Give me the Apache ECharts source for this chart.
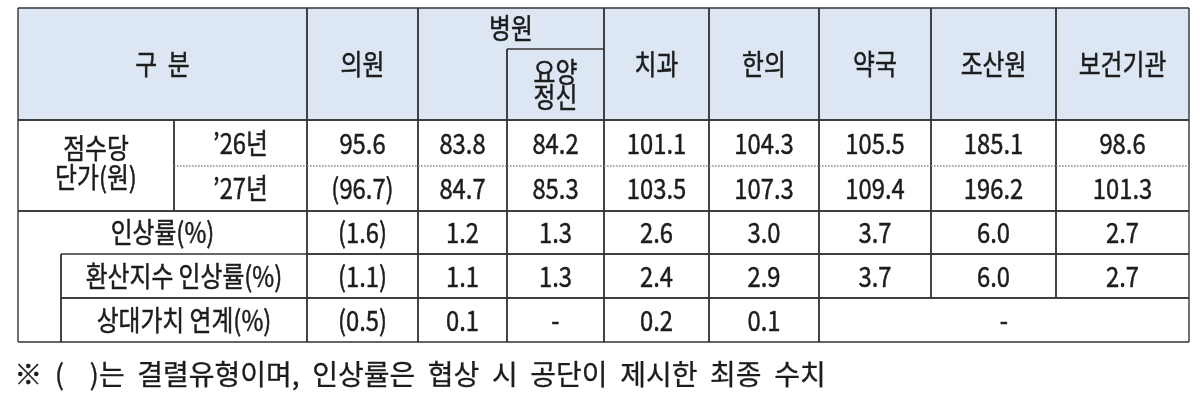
<!DOCTYPE html>
<html><head><meta charset="utf-8">
<script src="https://cdn.jsdelivr.net/npm/echarts@6/dist/echarts.min.js"></script>
<style>html,body{margin:0;padding:0;background:#fff}#c{width:1200px;height:401px}</style>
</head><body><div id="c"></div>
<script>
// ---------- data ----------
const categories = ['의원', '병원', '요양\n정신', '치과', '한의', '약국', '조산원', '보건기관'];
const cornerLabel = '구 분';
const priceLabel = '점수당\n단가(원)';
const yearLabels = ['’26년', '’27년'];
const rateLabels = ['인상률(%)', '환산지수 인상률(%)', '상대가치 연계(%)'];
const price26 = [95.6, 83.8, 84.2, 101.1, 104.3, 105.5, 185.1, 98.6];
const price27 = [96.7, 84.7, 85.3, 103.5, 107.3, 109.4, 196.2, 101.3];
const rateTotal = [1.6, 1.2, 1.3, 2.6, 3.0, 3.7, 6.0, 2.7];
const rateConv = [1.1, 1.1, 1.3, 2.4, 2.9, 3.7, 6.0, 2.7];
const rateRel = [0.5, 0.1, null, 0.2, 0.1, null, null, null];
const brokenCategory = 0; // index of category shown in parentheses (결렬)
const footnote = '※ (   )는 결렬유형이며, 인상률은 협상 시 공단이 제시한 최종 수치';

// ---------- layout (axis units) ----------
const COL = [18, 61, 174, 307, 418, 507, 604, 709, 819, 931, 1056, 1189];
const ROW = [8, 49, 120, 166, 211, 254, 298, 342];
const HEAD_FILL = '#dde7f3';
const LINE = '#333';
const TEXT = '#1c1c1c';
// wider word spacing as in the source document
const SP = '\u2005\u2009';
const wide = s => s.replace(/ +/g, m => m.length > 1 ? SP + SP : SP);

const cells = [];
function cell(c0, c1, r0, r1, text, opt) { cells.push(Object.assign({ c0, c1, r0, r1, text }, opt || {})); }
function fmt(v, i, paren) {
  if (v === null || v === undefined) return '-';
  const s = v.toFixed(1);
  return (paren && i === brokenCategory) ? '(' + s + ')' : s;
}
// header
cell(0, 3, 0, 2, wide(cornerLabel), { head: true });
categories.forEach((name, i) => {
  const c = i + 3;
  if (i === 1) {
    cell(4, 6, 0, 1, name, { head: true, noBottom: true });
    cell(4, 5, 1, 2, '', { head: true, noTop: true });
  } else if (i === 2) {
    cell(5, 6, 1, 2, name, { head: true, lh: 25 });
  } else {
    cell(c, c + 1, 0, 2, name, { head: true });
  }
});
// price rows
cell(0, 2, 2, 4, priceLabel, { lh: 29, dy: -3 });
cell(2, 3, 2, 3, yearLabels[0], { dotBottom: true });
cell(2, 3, 3, 4, yearLabels[1], { dotTop: true });
price26.forEach((v, i) => cell(i + 3, i + 4, 2, 3, fmt(v, i, false), { dotBottom: true }));
price27.forEach((v, i) => cell(i + 3, i + 4, 3, 4, fmt(v, i, true), { dotTop: true }));
// rate rows
cell(0, 3, 4, 5, rateLabels[0], { noBottom: true });
cell(0, 1, 5, 7, '', { noTop: true });
cell(1, 3, 5, 6, rateLabels[1]);
cell(1, 3, 6, 7, rateLabels[2]);
rateTotal.forEach((v, i) => cell(i + 3, i + 4, 4, 5, fmt(v, i, true)));
rateConv.forEach((v, i) => cell(i + 3, i + 4, 5, 6, fmt(v, i, true)));
// relative-value row: trailing empty values merge into one cell
let lastVal = rateRel.length - 1;
while (lastVal >= 0 && rateRel[lastVal] === null) lastVal--;
for (let i = 0; i <= lastVal; i++) cell(i + 3, i + 4, 6, 7, fmt(rateRel[i], i, true));
if (lastVal < rateRel.length - 1) cell(lastVal + 4, rateRel.length + 3, 6, 7, '-');

function box(api, c) {
  const p0 = api.coord([COL[c.c0], ROW[c.r0]]);
  const p1 = api.coord([COL[c.c1], ROW[c.r1]]);
  return { x0: p0[0], y0: p0[1], x1: p1[0], y1: p1[1] };
}
function fillItem(params, api) {
  const c = cells[params.dataIndex];
  const b = box(api, c);
  return { type: 'rect', shape: { x: b.x0, y: b.y0, width: b.x1 - b.x0, height: b.y1 - b.y0 },
    style: { fill: c.head ? HEAD_FILL : '#ffffff' } };
}
function lineEl(x1, y1, x2, y2, dotted) {
  return { type: 'line', shape: { x1, y1, x2, y2 },
    style: dotted ? { stroke: '#8a8a8a', lineWidth: 1, lineDash: [1.5, 1.5] } : { stroke: LINE, lineWidth: 1.4 } };
}
function edgeItem(params, api) {
  const c = cells[params.dataIndex];
  const b = box(api, c);
  const ch = [];
  ch.push(lineEl(b.x0, b.y0, b.x0, b.y1));
  ch.push(lineEl(b.x1, b.y0, b.x1, b.y1));
  if (!c.noTop) ch.push(lineEl(b.x0, b.y0, b.x1, b.y0, c.dotTop));
  if (!c.noBottom) ch.push(lineEl(b.x0, b.y1, b.x1, b.y1, c.dotBottom));
  if (c.text) {
    ch.push({ type: 'text', x: (b.x0 + b.x1) / 2, y: (b.y0 + b.y1) / 2 + (c.dy || 0), scaleX: 0.85,
      style: { text: c.text, fill: TEXT, stroke: TEXT, lineWidth: 0.5,
        font: '28px "Noto Sans CJK KR"', align: 'center', verticalAlign: 'middle',
        lineHeight: c.lh || 28 } });
  }
  return { type: 'group', children: ch };
}

const data = cells.map(c => [COL[c.c0], ROW[c.r0], COL[c.c1], ROW[c.r1]]);
const chart = echarts.init(document.getElementById('c'), null, { renderer: 'canvas' });
chart.setOption({
  animation: false,
  grid: { left: 0, right: 0, top: 0, bottom: 0 },
  xAxis: { type: 'value', min: 0, max: 1200, show: false },
  yAxis: { type: 'value', min: 0, max: 401, inverse: true, show: false },
  series: [
    { type: 'custom', renderItem: fillItem, data: data, z: 1, silent: true },
    { type: 'custom', renderItem: edgeItem, data: data, z: 2, silent: true }
  ],
  graphic: [{ type: 'text', left: 14, top: 360,
    style: { text: wide(footnote), fill: TEXT, stroke: TEXT, lineWidth: 0.3, font: '28px "Noto Sans CJK KR"' } }]
});
</script></body></html>
